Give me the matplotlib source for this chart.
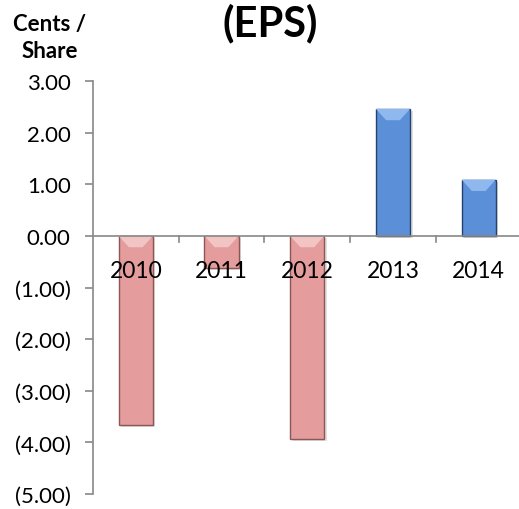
import numpy as np
import matplotlib
matplotlib.use("Agg")
import matplotlib.pyplot as plt
from matplotlib.patches import Polygon

years = ["2010", "2011", "2012", "2013", "2014"]
eps = [-3.66, -0.62, -3.93, 2.46, 1.09]
y_ticks = [3, 2, 1, 0, -1, -2, -3, -4, -5]

neg_face = "#e59c9c"
neg_light = "#f2c4c4"
neg_edge = "#8c5656"
pos_face = "#5b8fd8"
pos_light = "#8fb8ee"
pos_edge = "#25426f"

plt.rcParams["font.family"] = ["Lato", "DejaVu Sans"]

fig = plt.figure(figsize=(5.19, 5.10), dpi=100)
ax = fig.add_axes([0.179, 0.0294, 0.821, 0.8098])

x = np.arange(len(years))
width = 0.4
faces = [neg_face if v < 0 else pos_face for v in eps]
lights = [neg_light if v < 0 else pos_light for v in eps]
edges = [neg_edge if v < 0 else pos_edge for v in eps]

# soft shadow behind bars
ax.bar(x + 0.03, eps, width=width, bottom=-0.04, color="#000000", alpha=0.12, zorder=1)
ax.bar(x, eps, width=width, color=faces, edgecolor=edges, linewidth=1.0, zorder=2)

# bevel highlight on the upper end of each bar
for xi, v, c in zip(x, eps, lights):
    top = max(v, 0)
    h = 0.22
    inset = 0.12
    poly = Polygon([(xi - width / 2, top), (xi + width / 2, top),
                    (xi + width / 2 - inset, top - h), (xi - width / 2 + inset, top - h)],
                   closed=True, color=c, lw=0, zorder=2.5)
    ax.add_patch(poly)

ax.set_xlim(-0.5, 4.47)
ax.set_ylim(-5, 3)

def fmt(v):
    if v < 0:
        return "(%.2f)" % abs(v)
    return "%.2f" % v

ax.set_yticks(y_ticks)
ax.set_yticklabels([fmt(v) for v in y_ticks], fontsize=16)
ax.tick_params(axis="y", length=6, width=1.2, color="#888888", pad=10)

# category labels sit just under the zero line
ax.set_xticks([])
for i, label in enumerate(years):
    ax.text(i, -0.68, label, ha="center", va="center", fontsize=16.5, zorder=3)
for b in np.arange(0.5, 4.0, 1.0):
    ax.plot([b, b], [0, -0.12], color="#888888", lw=1.2, clip_on=False, zorder=3)
ax.axhline(0, color="#888888", lw=1.2, zorder=3)

for s in ["top", "right", "bottom"]:
    ax.spines[s].set_visible(False)
ax.spines["left"].set_color("#888888")
ax.spines["left"].set_linewidth(1.2)

fig.text(0.52, 0.955, "(EPS)", ha="center", va="center", fontsize=30, fontweight="bold")
fig.text(0.096, 0.925, "Cents /\nShare", ha="center", va="center", fontsize=16,
         fontweight="bold", linespacing=1.35)

fig.savefig("out.png", dpi=100)
